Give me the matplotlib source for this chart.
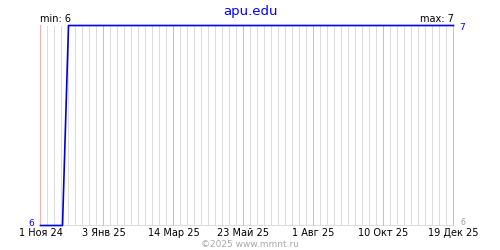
import datetime as dt
import matplotlib
matplotlib.use('Agg')
import matplotlib.pyplot as plt
import matplotlib.dates as mdates

# series
dates = [dt.date(2024, 11, 1), dt.date(2024, 11, 23),
         dt.date(2024, 11, 29), dt.date(2025, 12, 19)]
values = [6, 6, 7, 7]
tick_dates = [dt.date(2024, 11, 1), dt.date(2025, 1, 3), dt.date(2025, 3, 14),
              dt.date(2025, 5, 23), dt.date(2025, 8, 1), dt.date(2025, 10, 10),
              dt.date(2025, 12, 19)]
tick_labels = ["1 Ноя 24", "3 Янв 25", "14 Мар 25", "23 Май 25",
               "1 Авг 25", "10 Окт 25", "19 Дек 25"]
title = "apu.edu"
footer = "©2025 www.mmnt.ru"

plt.rcParams['font.family'] = ['DejaVu Sans']
fig = plt.figure(figsize=(5, 2.5), dpi=100)
# half-pixel offset so 1 px grid lines land on pixel centres
ax = fig.add_axes([40.5 / 500, 24.5 / 250, 413 / 500, 200 / 250])

x0 = mdates.date2num(dates[0])
x1 = mdates.date2num(dates[-1])
ax.set_xlim(x0, x1)
ax.set_ylim(6, 7)

# weekly grid, pink lines at the labelled dates (1 px wide)
px = 0.72
tick_nums = [mdates.date2num(d) for d in tick_dates]
week = x0
while week <= x1 + 0.01:
    if min(abs(week - t) for t in tick_nums) > 0.5:
        ax.axvline(week, color='#dddddd', lw=px, zorder=1, snap=False)
    week += 7
for t in tick_nums:
    ax.axvline(t, color='#ffaaaa', lw=px, zorder=2, snap=False, clip_on=False)
ax.axhline(6, color='#dddddd', lw=px, zorder=1, clip_on=False, snap=False)

ax.plot(mdates.date2num(dates), values, color='#0000dd', lw=1.2,
        zorder=3, clip_on=False)

for s in ax.spines.values():
    s.set_visible(False)
ax.set_yticks([])
ax.set_xticks(tick_nums)
ax.set_xticklabels(tick_labels, fontsize=7)
ax.tick_params(axis='x', length=0, pad=2)

fig.text(0.5, 0.955, title, color='#0000ff', fontsize=9.5, ha='center', va='center')
ax.text(0.0, 1.01, "min: 6", transform=ax.transAxes, fontsize=7,
        ha='left', va='bottom')
ax.text(1.0, 1.01, "max: 7", transform=ax.transAxes, fontsize=7,
        ha='right', va='bottom')
ax.text(1.015, 0.99, "7", transform=ax.transAxes, fontsize=6.5,
        color='#0000ff', ha='left', va='center')
ax.text(1.018, 0.015, "6", transform=ax.transAxes, fontsize=5.5,
        color='#999999', ha='left', va='center')
ax.text(-0.015, 0.01, "6", transform=ax.transAxes, fontsize=6.5,
        color='#0000ff', ha='right', va='center')
fig.text(0.5, 0.022, footer, color='#aaaaaa', fontsize=6.5, ha='center', va='center')

fig.savefig('out.png', dpi=100)
